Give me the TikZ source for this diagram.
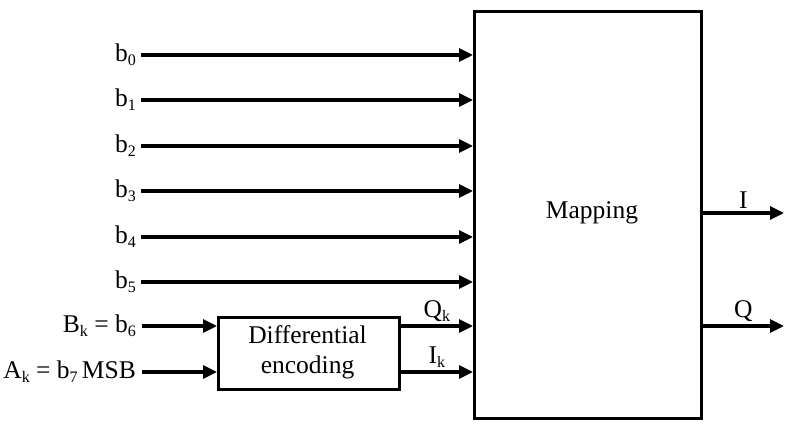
\documentclass[tikz,border=0pt]{standalone}
\usepackage{fontspec}
\setmainfont{Liberation Serif}
\usetikzlibrary{arrows.meta}
\newcommand{\sbx}[1]{\raisebox{-0.35ex}{\fontsize{16}{18}\selectfont #1}}
\begin{document}
\begin{tikzpicture}[x=1pt,y=-1pt,
  sig/.style={line width=3.2pt,-{Triangle[length=14pt,width=13pt]}},
  blk/.style={draw,line width=2.6pt,inner sep=0pt},
  lbl/.style={font=\fontsize{25.5}{30}\selectfont,inner sep=1pt}]
\useasboundingbox (0,0) rectangle (787,427);
\node[blk,minimum width=227pt,minimum height=407pt,anchor=north west] (map) at (473,10) {};
\node[lbl] at (592,213) {Mapping};
\node[blk,minimum width=181pt,minimum height=72pt,anchor=north west] (enc) at (217,316) {};
\node[lbl,align=center,font=\fontsize{25.5}{30}\selectfont] at (307.5,352) {Differential\\encoding};
\foreach \i/\y in {0/55,1/100,2/146,3/191,4/237,5/282}{
  \node[lbl,anchor=east] (b\i) at (137,\y) {b\sbx{\i}};
  \coordinate (m\i) at (map.west |- 0,\y);
  \draw[sig] (b\i.east) ++(4,0) -- (m\i);
}
\node[lbl,anchor=east] (bk) at (137,326) {B\sbx{k} = b\sbx{6}};
\node[lbl,anchor=east] (ak) at (137,372) {A\sbx{k} = b\sbx{7}\,MSB};
\coordinate (ein1) at (enc.west |- 0,326);
\coordinate (ein2) at (enc.west |- 0,372);
\draw[sig] (bk.east) ++(5,0) -- (ein1);
\draw[sig] (ak.east) ++(5,0) -- (ein2);
\coordinate (eo1) at (enc.east |- 0,326);
\coordinate (eo2) at (enc.east |- 0,372);
\coordinate (mq) at (map.west |- 0,326);
\coordinate (mi) at (map.west |- 0,372);
\draw[sig] (eo1) -- node[lbl,above=2pt] {Q\sbx{k}} (mq);
\draw[sig] (eo2) -- node[lbl,above=2pt] {I\sbx{k}} (mi);
\coordinate (oi) at (map.east |- 0,213);
\coordinate (oq) at (map.east |- 0,326);
\coordinate (ei) at (784,213);
\coordinate (eq) at (784,326);
\draw[sig] (oi) -- node[lbl,above=2pt] {I} (ei);
\draw[sig] (oq) -- node[lbl,above=2pt] {Q} (eq);
\end{tikzpicture}
\end{document}
